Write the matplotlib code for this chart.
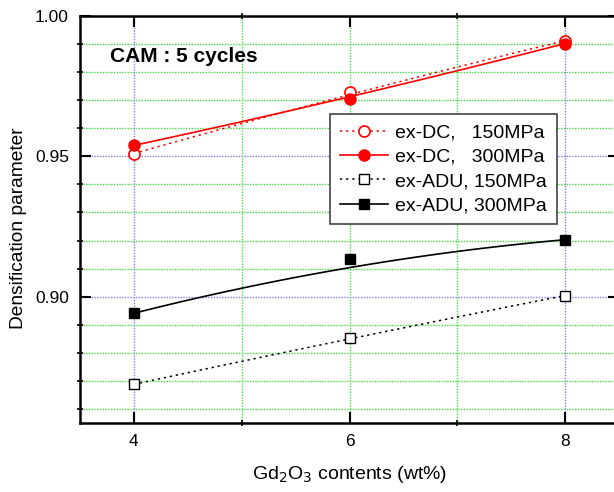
import numpy as np
import matplotlib
matplotlib.use("Agg")
import matplotlib.pyplot as plt
from matplotlib.ticker import FixedLocator
from matplotlib.transforms import IdentityTransform

plt.rcParams['font.family'] = ['Liberation Sans', 'DejaVu Sans']

gd_content = [4, 6, 8]
dc_150 = [0.9510, 0.9728, 0.9912]
dc_300 = [0.9539, 0.9704, 0.9902]
adu_150 = [0.8688, 0.8853, 0.9004]
adu_300 = [0.8941, 0.9135, 0.9203]
labels = ["ex-DC,   150MPa", "ex-DC,   300MPa", "ex-ADU, 150MPa", "ex-ADU, 300MPa"]

fig = plt.figure(figsize=(6.14, 4.92), dpi=100)
ax = fig.add_axes([80/614, 1-423/492, (619-80)/614, (423-16)/492])
ax.set_xlim(3.5, 8.5)
ax.set_ylim(0.855, 1.0)

# grid lines
for yv in np.arange(0.86, 1.0, 0.01):
    if abs(yv - 0.90) < 1e-6 or abs(yv - 0.95) < 1e-6:
        ax.axhline(yv, color='#8080ff', lw=1.0, ls=(0, (1, 1)), zorder=0)
    else:
        ax.axhline(yv, color='#44e044', lw=1.0, ls=(0, (1, 1)), zorder=0)
for xv in [4, 5, 6, 7, 8]:
    c = '#8080ff' if xv in (4, 8) else '#44e044'
    ax.axvline(xv, color=c, lw=1.0, ls=(0, (1, 1)), zorder=0)

x = np.array(gd_content, dtype=float)
t = np.linspace(0, 1, 100)

def bspline(xv, yv):
    xv = np.asarray(xv, float)
    yv = np.asarray(yv, float)
    bx = (1-t)**2*xv[0] + 2*t*(1-t)*xv[1] + t**2*xv[2]
    by = (1-t)**2*yv[0] + 2*t*(1-t)*yv[1] + t**2*yv[2]
    return bx, by

dot = (0, (1.5, 2.5))
ax.plot(*bspline(x, dc_150), color='red', lw=1.1, ls=dot, zorder=2)
ax.plot(*bspline(x, dc_300), color='red', lw=1.2, zorder=2)
ax.plot(*bspline(x, adu_150), color='black', lw=1.1, ls=dot, zorder=2)
ax.plot(*bspline(x, adu_300), color='black', lw=1.2, zorder=2)

ax.plot(x, dc_150, 'o', mfc='white', mec='red', mew=1.2, ms=8, zorder=3)
ax.plot(x, dc_300, 'o', mfc='red', mec='red', ms=8, zorder=3)
ax.plot(x, adu_150, 's', mfc='white', mec='black', mew=1.0, ms=7, zorder=3)
ax.plot(x, adu_300, 's', mfc='black', mec='black', ms=7, zorder=3)

# legend handles
h1, = ax.plot([], [], color='red', lw=1.1, ls=dot, marker='o', mfc='white', mec='red', mew=1.2, ms=8)
h2, = ax.plot([], [], color='red', lw=1.2, marker='o', mfc='red', mec='red', ms=8)
h3, = ax.plot([], [], color='black', lw=1.1, ls=dot, marker='s', mfc='white', mec='black', ms=7)
h4, = ax.plot([], [], color='black', lw=1.2, marker='s', mfc='black', mec='black', ms=7)
leg = ax.legend([h1, h2, h3, h4], labels, loc='upper left',
                bbox_to_anchor=((330-80)/539, 1-(114-16)/407), borderaxespad=0,
                fontsize=14, frameon=True, fancybox=False, edgecolor='#444444',
                framealpha=1, handlelength=2.5, handletextpad=0.35,
                borderpad=0.5, labelspacing=0.35)
leg.get_frame().set_linewidth(1.2)

fig.text(110, 492-62, "CAM : 5 cycles", transform=IdentityTransform(),
         fontsize=15, fontweight='bold')

ax.set_xticks([4, 6, 8])
ax.set_xticklabels(['4', '6', '8'])
ax.xaxis.set_minor_locator(FixedLocator([5, 7]))
ax.set_yticks([0.90, 0.95, 1.00])
ax.set_yticklabels(['0.90', '0.95', '1.00'])
ax.yaxis.set_minor_locator(FixedLocator(np.arange(0.86, 1.0, 0.01)))
ax.tick_params(which='major', direction='in', length=8, width=1.5, labelsize=12.5,
               top=True, right=True, pad=8)
ax.tick_params(which='minor', direction='inout', length=5, width=1.2, top=True, right=True)

for s in ax.spines.values():
    s.set_linewidth(1.8)

ax.set_xlabel("Gd$_2$O$_3$ contents (wt%)", fontsize=14, labelpad=11)
fig.text(18.5, 492-228, "Densification parameter", transform=IdentityTransform(),
         fontsize=13.8, rotation=90, ha='center', va='center')

fig.savefig("out.png", dpi=100)
